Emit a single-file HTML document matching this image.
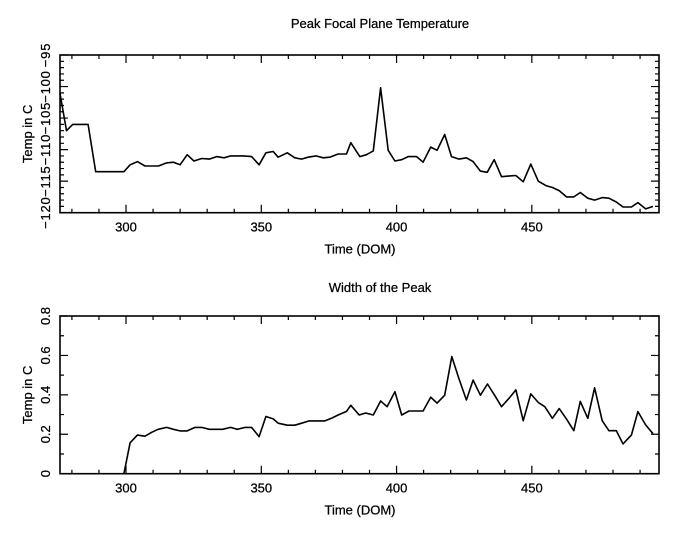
<!DOCTYPE html>
<html><head><meta charset="utf-8"><style>
body{margin:0;background:#fff;width:680px;height:540px;overflow:hidden}
svg{display:block;font-family:"Liberation Sans",sans-serif}
text{font-size:13px;fill:#000;stroke:#000;stroke-width:0.25}
</style></head><body>
<svg id="chart" width="680" height="540"></svg>
<script>
const tempX=[275.6,278,280.3,286,288.8,299.2,301.5,304.2,307,312,315,317.5,320,322.6,325.1,328,330.8,333.5,336.2,338.7,343.3,346.4,349.2,351.7,354.4,356.2,359.6,362.4,364.9,367.3,370.2,372.9,375.3,378.4,381.5,383.1,386.4,388.9,391.4,394.1,396.9,399.4,401.9,404.3,407.4,409.8,412.6,415,417.8,420.3,423.1,425.8,428.3,431,433.5,436.1,438.8,441.3,444.1,446.8,449.6,452.4,455.2,457.6,460.1,462.8,465.5,467.9,470.7,473.2,476,478.5,481.2,483.7,486.8,489.2,492.1,494.8];
const tempY=[-101.1,-107,-106,-106,-113.5,-113.5,-112.4,-111.9,-112.6,-112.6,-112.1,-112,-112.4,-110.8,-111.8,-111.4,-111.5,-111.1,-111.3,-111,-111,-111.1,-112.4,-110.5,-110.3,-111.2,-110.5,-111.3,-111.5,-111.2,-111,-111.3,-111.2,-110.7,-110.7,-108.9,-111.1,-110.8,-110.2,-100.2,-110.1,-111.8,-111.6,-111.1,-111.1,-112,-109.6,-110.1,-107.6,-111.1,-111.5,-111.3,-111.9,-113.4,-113.6,-111.6,-114.3,-114.2,-114.1,-115.1,-112.3,-115,-115.7,-116,-116.5,-117.5,-117.5,-116.8,-117.7,-118,-117.6,-117.7,-118.3,-119.1,-119.1,-118.4,-119.4,-119];
const widthX=[299.2,301.5,304.2,307,309.5,311.9,315,317.5,320,322.6,325.5,328,330.8,335.7,338.7,341.1,344,346.4,349.2,351.7,354.4,356.2,359.6,362.4,364.9,367.7,370.4,373.5,375.9,378.4,381.5,383.1,386.2,388.6,391.4,394.1,396.5,399.4,401.9,404.6,409.8,412.6,415,417.8,420.4,423.1,425.8,428.3,431,433.6,436.3,438.8,441.6,444.1,446.8,449.6,452.4,454.8,457.6,460.1,462.8,465.5,467.9,470.7,473.2,476,478.5,481.2,483.7,486.8,489.2,492.1,494.8];
const widthY=[0,0.157,0.196,0.19,0.21,0.225,0.235,0.225,0.217,0.217,0.235,0.235,0.225,0.225,0.235,0.225,0.235,0.235,0.188,0.29,0.278,0.256,0.246,0.246,0.256,0.268,0.268,0.268,0.281,0.298,0.316,0.347,0.298,0.308,0.298,0.369,0.34,0.416,0.298,0.318,0.318,0.388,0.358,0.398,0.594,0.48,0.374,0.475,0.398,0.455,0.396,0.34,0.383,0.425,0.269,0.405,0.361,0.34,0.281,0.33,0.277,0.218,0.367,0.281,0.436,0.269,0.218,0.218,0.151,0.196,0.315,0.247,0.203];
const topTicks=[-120,-115,-110,-105,-100,-95];
const botTicks=[0,0.2,0.4,0.6,0.8];
const xTicks=[300,350,400,450];

const NS="http://www.w3.org/2000/svg";
const svg=document.getElementById('chart');
function mk(tag,attrs,parent){const e=document.createElementNS(NS,tag);for(const k in attrs)e.setAttribute(k,attrs[k]);(parent||svg).appendChild(e);return e;}
const XMIN=275.6,XMAX=497,L=60,R=659;
function panel(name,top,bot,ymin,ymax,yMajor,yMinor,ticks,fmt,xs,ys,title,titleY,ySpacing){
  const g=mk('g',{});
  
  
  const sx=v=>L+(v-XMIN)/(XMAX-XMIN)*(R-L);
  const sy=v=>bot-(v-ymin)/(ymax-ymin)*(bot-top);
  const fr=mk('rect',{x:L,y:top,width:R-L,height:bot-top,fill:'none',stroke:'#000','stroke-width':1.6},g);
  
  
  let p='';
  for(let v=280;v<=XMAX;v+=10){const x=sx(v);const len=(v%50===0)?8:4;p+=`M${x},${bot}v${-len}M${x},${top}v${len}`;}
  const nMinor=Math.round((ymax-ymin)/yMinor);
  for(let i=0;i<=nMinor;i++){const v=ymin+i*yMinor;const y=sy(v);const maj=Math.abs(((v-ymin)/yMajor)-Math.round((v-ymin)/yMajor))<1e-6;const len=maj?8:4;p+=`M${L},${y}h${len}M${R},${y}h${-len}`;}
  const tk=mk('path',{d:p,stroke:'#000','stroke-width':1.2,fill:'none'},g);
  
  
  xTicks.forEach(v=>{const t=mk('text',{x:sx(v),y:bot+19,'text-anchor':'middle'},g);t.textContent=v;
    
    });
  ticks.forEach(v=>{const y=sy(v);const t=mk('text',{x:0,y:0,'text-anchor':'middle','letter-spacing':ySpacing,transform:`translate(50,${y}) rotate(-90)`},g);t.textContent=fmt(v);
    
    });
  const tt=mk('text',{x:380,y:titleY,'text-anchor':'middle'},g);tt.textContent=title;
  
  
  const xl=mk('text',{x:360,y:bot+41,'text-anchor':'middle'},g);xl.textContent='Time (DOM)';
  
  
  const yl=mk('text',{x:0,y:0,'text-anchor':'middle',transform:`translate(32,${(top+bot)/2}) rotate(-90)`},g);yl.textContent='Temp in C';
  
  
  let d='';xs.forEach((v,i)=>{d+=(i?'L':'M')+sx(v).toFixed(1)+','+sy(ys[i]).toFixed(1);});
  const ln=mk('path',{d:d,stroke:'#000','stroke-width':1.6,fill:'none','stroke-linejoin':'round'},g);
  
  
}
panel('temperature-panel',55,212.7,-120,-95,5,1,topTicks,v=>String(v).replace('-','\u2212'),tempX,tempY,'Peak Focal Plane Temperature',28,'0.8px');
panel('width-panel',316,473.7,0,0.8,0.2,0.1,botTicks,v=>v===0?'0':v.toFixed(1),widthX,widthY,'Width of the Peak',292,'0px');
</script>
</body></html>
